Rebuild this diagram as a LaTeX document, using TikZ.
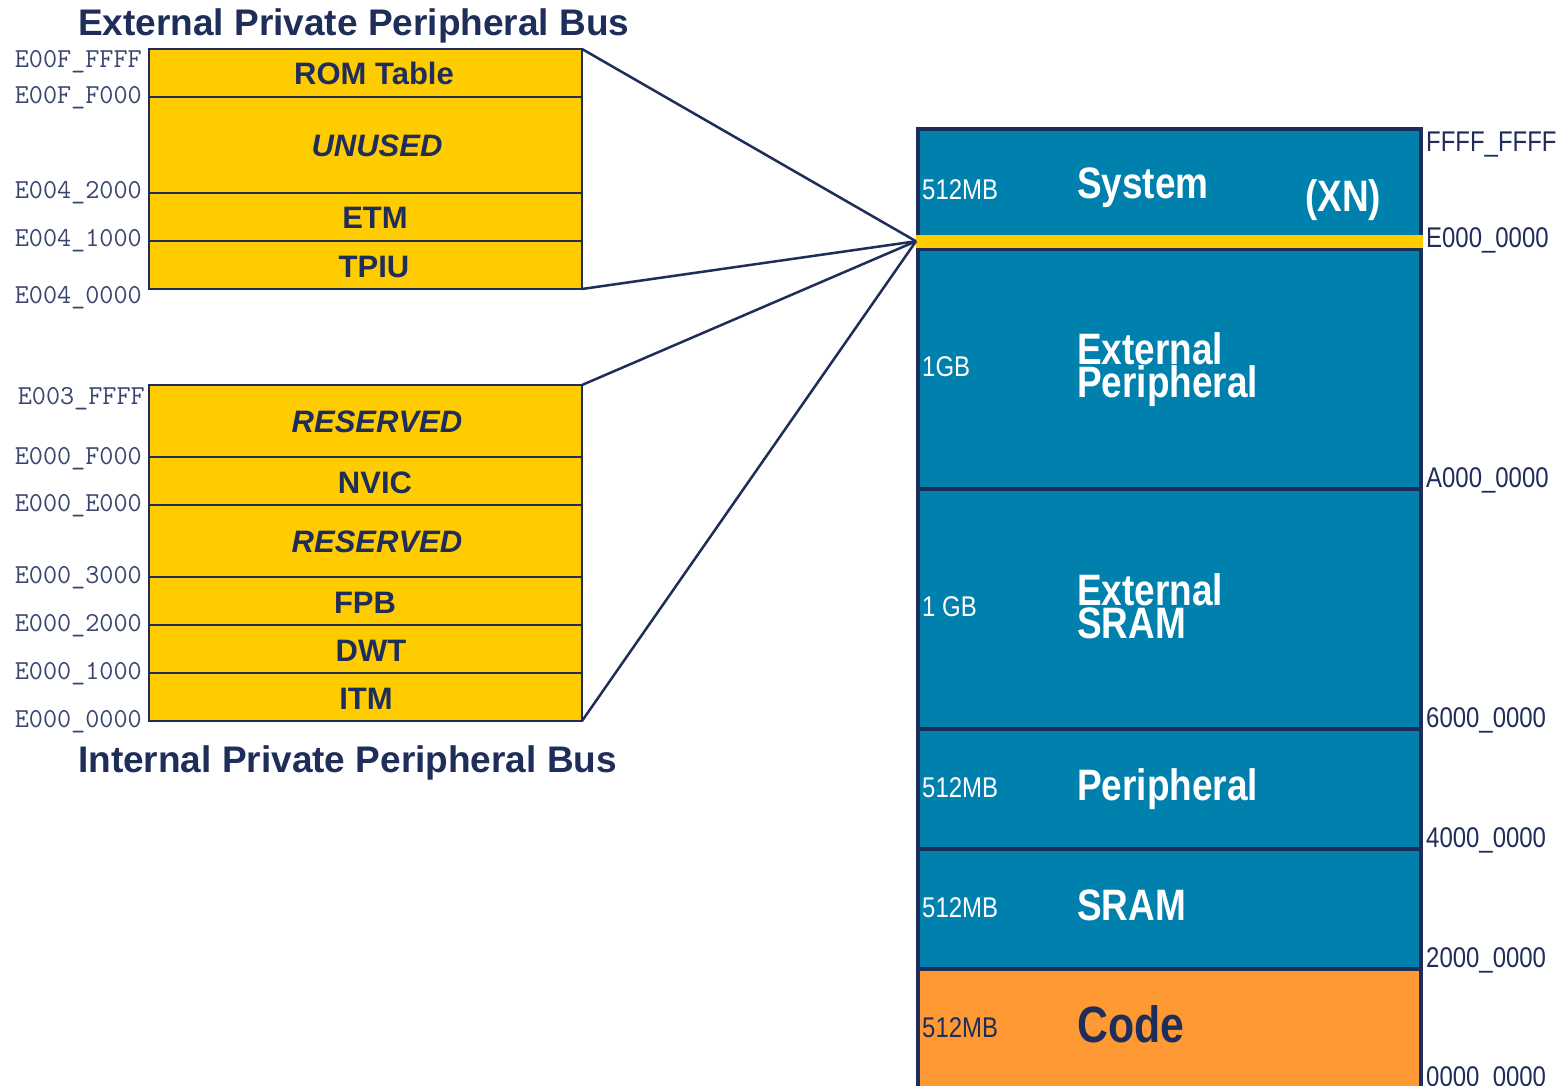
\documentclass[tikz,border=0pt]{standalone}
\usepackage{fontspec}
\setmainfont{Liberation Sans}
\newfontfamily\narrowsans[FakeStretch=0.84]{Liberation Sans}
\definecolor{navy}{HTML}{1F2D5A}
\definecolor{addrgray}{HTML}{3A4670}
\definecolor{busyellow}{HTML}{FFCC00}
\definecolor{mapblue}{HTML}{0080AD}
\definecolor{codeorange}{HTML}{FF9933}
\tikzset{
  seg/.style={draw=navy, line width=2.5pt, fill=busyellow, minimum width=433pt,
    minimum height=#1, inner sep=0pt, outer sep=0pt, anchor=north west},
  region/.style={draw=navy, line width=3.5pt, fill=mapblue, minimum width=503pt,
    minimum height=#1, inner sep=0pt, outer sep=0pt, anchor=north west},
  seglabel/.style={text=navy, font=\fontsize{31}{31}\selectfont\bfseries, inner sep=0pt, anchor=base},
  bustitle/.style={text=navy, font=\fontsize{37}{37}\selectfont\bfseries, inner sep=0pt, anchor=base west},
  laddr/.style={text=addrgray, font=\ttfamily\fontsize{27.4}{27.4}\selectfont, inner sep=0pt, anchor=base east},
  raddr/.style={text=navy, font=\narrowsans\fontsize{28.5}{28.5}\selectfont, inner sep=0pt, anchor=base west},
  sizelbl/.style={text=white, font=\narrowsans\fontsize{28.5}{28.5}\selectfont, inner sep=0pt, anchor=base west},
  regionname/.style={text=white, font=\narrowsans\fontsize{44}{33}\selectfont\bfseries, inner sep=0pt, align=left},
  link/.style={draw=navy, line width=2.5pt},
}
\begin{document}
\begin{tikzpicture}[x=1pt, y=-1pt]
\clip (0,0) rectangle (1566,1086);
\fill[white] (0,0) rectangle (1566,1086);

% External private peripheral bus
\node[bustitle] (exttitle) at (78,36) {External Private Peripheral Bus};
\node[seg=48pt] (rom) at (149,49) {};
\node[seg=96pt] (unused) at (149,97) {};
\node[seg=48pt] (etm) at (149,193) {};
\node[seg=48pt] (tpiu) at (149,241) {};
\node[seglabel] (romt) at (374,85) {ROM Table};
\node[seglabel] (unusedt) at (377,157) {\itshape UNUSED};
\node[seglabel] (etmt) at (375,229) {ETM};
\node[seglabel] (tpiut) at (374,277) {TPIU};

\node[laddr] (a1) at (142,68) {E00F\_FFFF};
\node[laddr] (a2) at (142,104) {E00F\_F000};
\node[laddr] (a3) at (142,199) {E004\_2000};
\node[laddr] (a4) at (142,247) {E004\_1000};
\node[laddr] (a5) at (142,303) {E004\_0000};

% Internal private peripheral bus
\node[seg=72pt] (res1) at (149,385) {};
\node[seg=48pt] (nvic) at (149,457) {};
\node[seg=72pt] (res2) at (149,505) {};
\node[seg=48pt] (fpb) at (149,577) {};
\node[seg=48pt] (dwt) at (149,625) {};
\node[seg=48pt] (itm) at (149,673) {};
\node[seglabel] (res1t) at (377,432) {\itshape RESERVED};
\node[seglabel] (nvict) at (375,493) {NVIC};
\node[seglabel] (res2t) at (377,552) {\itshape RESERVED};
\node[seglabel] (fpbt) at (365,613) {FPB};
\node[seglabel] (dwtt) at (371,661) {DWT};
\node[seglabel] (itmt) at (366,709) {ITM};
\node[bustitle] (inttitle) at (78,772) {Internal Private Peripheral Bus};

\node[laddr] (b1) at (145,404) {E003\_FFFF};
\node[laddr] (b2) at (142,464) {E000\_F000};
\node[laddr] (b3) at (142,511) {E000\_E000};
\node[laddr] (b4) at (142,583) {E000\_3000};
\node[laddr] (b5) at (142,631) {E000\_2000};
\node[laddr] (b6) at (142,679) {E000\_1000};
\node[laddr] (b7) at (142,727) {E000\_0000};

% Memory map
\node[region=120pt] (sys) at (918,129) {};
\node[region=240pt] (extp) at (918,249) {};
\node[region=240pt] (exts) at (918,489) {};
\node[region=120pt] (per) at (918,729) {};
\node[region=120pt] (sram) at (918,849) {};
\node[region=126pt, fill=codeorange] (code) at (918,969) {};
\node[fill=busyellow, minimum width=507pt, minimum height=12.5pt, inner sep=0pt,
  outer sep=0pt, anchor=north west] (band) at (916,235) {};

\node[sizelbl] (s1) at (922,199.5) {512MB};
\node[regionname, anchor=base west] (syst) at (1077,199) {System};
\node[regionname, anchor=base west] (xn) at (1305,212) {(XN)};
\node[sizelbl] (s2) at (922,376.5) {1GB};
\node[regionname, anchor=north west] (extpt) at (1077,332) {External\\Peripheral};
\node[sizelbl] (s3) at (922,616.5) {1 GB};
\node[regionname, anchor=north west] (extst) at (1077,573) {External\\SRAM};
\node[sizelbl] (s4) at (922,797.5) {512MB};
\node[regionname, anchor=base west] (pert) at (1077,800.5) {Peripheral};
\node[sizelbl] (s5) at (922,917.5) {512MB};
\node[regionname, anchor=base west] (sramt) at (1077,920.5) {SRAM};
\node[sizelbl, text=navy] (s6) at (922,1037.5) {512MB};
\node[regionname, anchor=base west, text=navy, font=\narrowsans\fontsize{51}{51}\selectfont\bfseries] (codet) at (1077,1042) {Code};

\node[raddr] (r1) at (1426,151.5) {FFFF\_FFFF};
\node[raddr] (r2) at (1426,247.5) {E000\_0000};
\node[raddr] (r3) at (1426,487.5) {A000\_0000};
\node[raddr] (r4) at (1426,727.5) {6000\_0000};
\node[raddr] (r5) at (1426,847.5) {4000\_0000};
\node[raddr] (r6) at (1426,967.5) {2000\_0000};
\node[raddr] (r7) at (1426,1086.5) {0000\_0000};

% Links from the bus boxes to the private peripheral band
\draw[link] (rom.north east) -- (band.west);
\draw[link] (tpiu.south east) -- (band.west);
\draw[link] (res1.north east) -- (band.west);
\draw[link] (itm.south east) -- (band.west);
\end{tikzpicture}
\end{document}
